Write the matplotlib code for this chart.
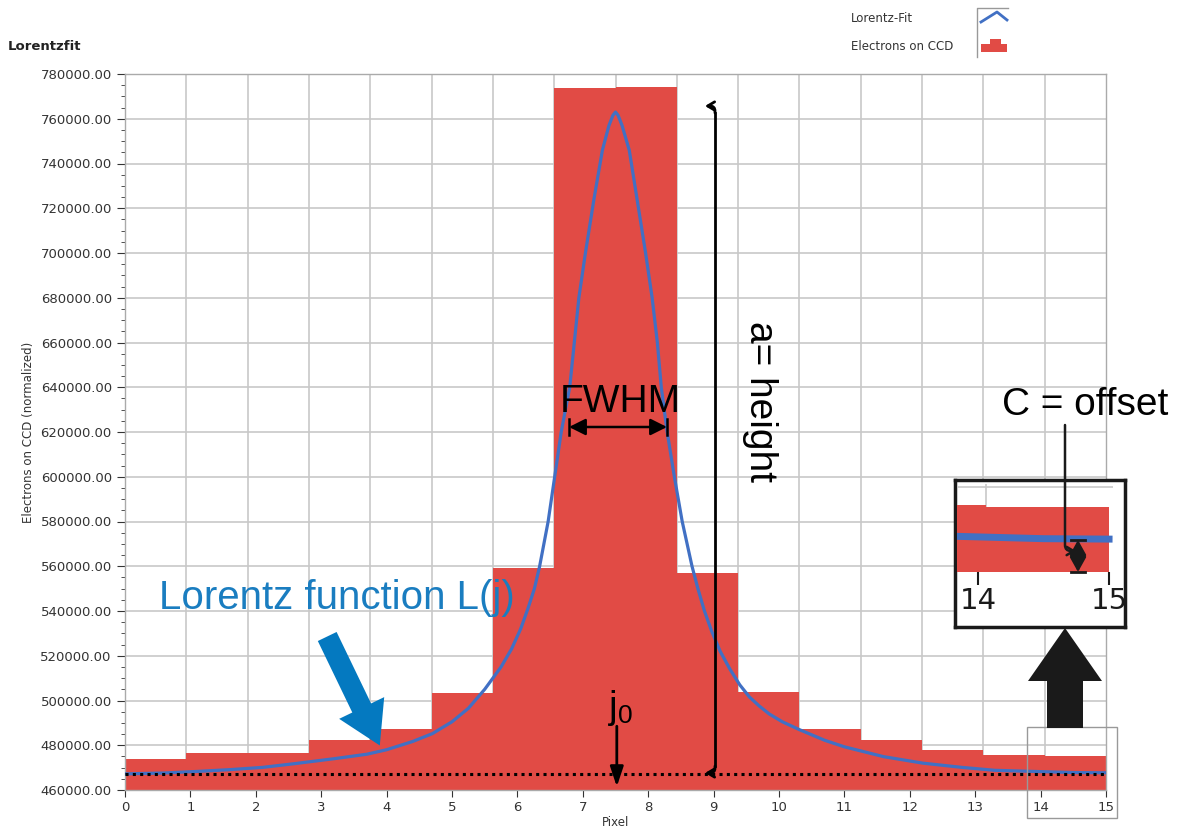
import numpy as np
import matplotlib.pyplot as plt
from matplotlib.patches import FancyArrowPatch, Rectangle, Polygon
from matplotlib.lines import Line2D
from matplotlib.ticker import MultipleLocator, FixedLocator

# histogram of electrons on the CCD (16 equal bins over 0..15)
bin_edges = np.linspace(0, 15, 17)
electrons = [474000, 476500, 476500, 482400, 487200, 503300, 559000, 773800,
             774400, 557000, 503700, 487200, 482200, 478100, 475800, 475200]

# Lorentz fit
fit_x = [0.0, 0.6, 1.1, 1.6, 2.1, 2.6, 3.2, 3.7, 4.0, 4.4, 4.7, 5.0, 5.25, 5.5,
         5.75, 5.91, 6.05, 6.16, 6.26, 6.34, 6.47, 6.57, 6.67, 6.80, 6.87, 6.94,
         7.04, 7.17, 7.30, 7.40, 7.46, 7.50, 7.54, 7.60, 7.71, 7.83, 7.96, 8.06,
         8.14, 8.20, 8.29, 8.40, 8.52, 8.67, 8.76, 8.86, 8.97, 9.10, 9.25, 9.40,
         9.55, 9.70, 9.85, 10.05, 10.31, 10.7, 11.0, 11.6, 12.2, 12.8, 13.3,
         13.9, 14.5, 15.0]
fit_y = [467200, 467600, 468300, 469100, 470100, 471800, 474000, 476000, 478000,
         481700, 485200, 490500, 496500, 505000, 515000, 523000, 532000, 541000,
         550000, 560000, 580000, 600000, 620000, 640000, 660000, 680000, 700000,
         724000, 746000, 757000, 761500, 763000, 761500, 757000, 746000, 724000,
         700000, 680000, 660000, 640000, 620000, 600000, 580000, 560000, 550000,
         540000, 531000, 522000, 514000, 507000, 501500, 497500, 494000, 490500,
         487000, 482200, 479300, 474900, 472000, 470100, 468800, 468300, 467800,
         467700]

offset_c = 467000
peak_x = 7.52

W, H = 1187, 833
red = '#e14b45'
blue = '#4170c4'
ann_blue = '#1a7dc0'
grid_c = '#c8c8c8'


def fp(x, y):
    # pixel position -> figure fraction
    return x / W, 1 - y / H


def ax_rect(l, t, r, b):
    return [l / W, 1 - b / H, (r - l) / W, (b - t) / H]


fig = plt.figure(figsize=(W / 100, H / 100), dpi=100)
ax = fig.add_axes(ax_rect(125, 74, 1106, 790))

ax.bar(bin_edges[:-1], electrons, width=15 / 16, align='edge', color=red,
       linewidth=0, zorder=2)
ax.plot(fit_x, fit_y, color=blue, lw=2.3, zorder=3)
ax.axhline(offset_c, color='black', ls=(0, (1, 1.4)), lw=2.2, zorder=4)

ax.set_xlim(0, 15)
ax.set_ylim(460000, 780000)
ax.xaxis.set_major_locator(MultipleLocator(1))
ax.xaxis.set_minor_locator(FixedLocator(bin_edges))
ax.yaxis.set_major_locator(MultipleLocator(20000))
ax.yaxis.set_minor_locator(MultipleLocator(5000))
ax.yaxis.set_major_formatter(lambda v, p: f'{v:.2f}')
ax.grid(True, which='minor', axis='x', color=grid_c, lw=1.2)
ax.grid(True, which='major', axis='y', color=grid_c, lw=1.2)
ax.set_axisbelow(True)
ax.tick_params(axis='x', which='minor', length=0)
ax.tick_params(axis='x', which='major', length=5, color='#333333', labelsize=9.5,
               labelcolor='#333333', pad=3)
ax.tick_params(axis='y', which='major', length=6, color='#333333', labelsize=9.5,
               labelcolor='#333333')
ax.tick_params(axis='y', which='minor', length=3, color='#333333')
for s in ax.spines.values():
    s.set_color('#aaaaaa')
    s.set_linewidth(1)
ax.set_xlabel('Pixel', fontsize=8.5, color='#333333', labelpad=1)
ax.set_ylabel('Electrons on CCD (normalized)', fontsize=8.5, color='#333333',
              labelpad=4)

fig.text(*fp(8, 47), 'Lorentzfit', fontsize=9.5, fontweight='bold',
         color='#222222', va='center', ha='left')

# legend
fig.text(*fp(851, 18), 'Lorentz-Fit', fontsize=8.5, color='#333333', va='center')
fig.text(*fp(851, 47), 'Electrons on CCD', fontsize=8.5, color='#333333',
         va='center')
fig.add_artist(Line2D(*zip(fp(1008, 8), fp(977, 8), fp(977, 57)), color='#999999',
                      lw=1))
fig.add_artist(Line2D(*zip(fp(981, 22), fp(997, 12), fp(1007, 20)), color=blue,
                      lw=2))
fig.add_artist(Polygon([fp(981, 52), fp(981, 44), fp(990, 44), fp(990, 39),
                        fp(1001, 39), fp(1001, 44), fp(1007, 44), fp(1007, 52)],
                       closed=True, color=red, lw=0))

tf = dict(family='Liberation Sans')

# Lorentz function label and arrow
fig.text(*fp(337, 598), 'Lorentz function L(j)', fontsize=29, color=ann_blue,
         ha='center', va='center', **tf)
fig.add_artist(FancyArrowPatch(fp(326, 634), fp(381, 748),
                               transform=fig.transFigure, mutation_scale=10,
                               arrowstyle='simple,tail_width=1.5,head_width=3.6,head_length=3.0',
                               color='#0479c0', lw=0))

# FWHM
fig.text(*fp(620, 402), 'FWHM', fontsize=28, ha='center', va='center', **tf)
fig.add_artist(FancyArrowPatch(fp(569, 427), fp(667, 427), transform=fig.transFigure,
                               arrowstyle='<|-|>,head_length=0.5,head_width=0.25',
                               mutation_scale=20, color='black', lw=1.8,
                               shrinkA=0, shrinkB=0))
for xx in (569, 667):
    fig.add_artist(Line2D(*zip(fp(xx, 419), fp(xx, 435)), color='black', lw=1.8))

# a = height
fig.text(*fp(760, 402), 'a= height', fontsize=28, rotation=-90, ha='center',
         va='center', **tf)
fig.add_artist(Line2D(*zip(fp(715, 113), fp(715, 766)), color='black', lw=2))
for y0, y1 in ((113, 106), (766, 773)):
    fig.add_artist(FancyArrowPatch(fp(715, y0), fp(705, y1), transform=fig.transFigure,
                                   connectionstyle='angle,angleA=90,angleB=0,rad=5',
                                   arrowstyle='->,head_length=0.25,head_width=0.15',
                                   mutation_scale=20, color='black', lw=2,
                                   shrinkA=0, shrinkB=0))

# j0
fig.text(*fp(618, 708), 'j', fontsize=28, ha='right', va='center', **tf)
fig.text(*fp(618, 716), '0', fontsize=19, ha='left', va='center', **tf)
ax.annotate('', xy=(peak_x, 461500), xytext=(peak_x, 488500),
            arrowprops=dict(arrowstyle='-|>,head_length=1.2,head_width=0.4',
                            color='black', lw=2, shrinkA=0, shrinkB=0),
            annotation_clip=False)

# marked region and big black arrow
fig.add_artist(Rectangle(fp(1027, 818), 90 / W, 91 / H, transform=fig.transFigure,
                         fill=False, edgecolor='#999999', lw=1))
fig.add_artist(Polygon([fp(1047, 728), fp(1083, 728), fp(1083, 681), fp(1102, 681),
                        fp(1065, 628), fp(1028, 681), fp(1047, 681)], closed=True,
                       color='#1a1a1a', lw=0))

# inset box with zoomed view of pixel 14..15
box = fig.add_axes(ax_rect(955, 480, 1125, 627))
box.set_xticks([])
box.set_yticks([])
for s in box.spines.values():
    s.set_linewidth(2.5)
    s.set_color('#1a1a1a')

ins = fig.add_axes(ax_rect(957, 484, 1113, 572))
ins.patch.set_alpha(0)
ins.bar(bin_edges[:-1], electrons, width=15 / 16, align='edge', color=red,
        linewidth=0, zorder=2)
ins.plot(fit_x, fit_y, color=blue, lw=5, zorder=3)
ins.set_xlim(13.84, 15.03)
ins.set_ylim(460000, 480600)
ins.set_xticks([14, 15])
ins.set_yticks([])
ins.xaxis.set_minor_locator(FixedLocator(bin_edges))
ins.grid(True, which='minor', axis='x', color=grid_c, lw=1.2)
ins.axhline(480000, color=grid_c, lw=1.2, zorder=0)
ins.tick_params(axis='x', which='minor', length=0)
ins.tick_params(axis='x', which='major', length=9, width=1.5, labelsize=21,
                color='#1a1a1a', labelcolor='#1a1a1a', pad=2)
for s in ins.spines.values():
    s.set_visible(False)

fig.text(*fp(1085, 405), 'C = offset', fontsize=28, ha='center', va='center', **tf)
fig.add_artist(FancyArrowPatch(fp(1065, 425), fp(1076, 551), transform=fig.transFigure,
                               connectionstyle='angle,angleA=90,angleB=0,rad=6',
                               arrowstyle='->,head_length=0.25,head_width=0.15',
                               mutation_scale=20, color='#1a1a1a', lw=1.8,
                               shrinkA=0, shrinkB=0))
fig.add_artist(FancyArrowPatch(fp(1078, 540), fp(1078, 572), transform=fig.transFigure,
                               arrowstyle='<|-|>,head_length=0.45,head_width=0.25',
                               mutation_scale=20, color='#1a1a1a', lw=1.8,
                               shrinkA=0, shrinkB=0))
for yy in (540, 572):
    fig.add_artist(Line2D(*zip(fp(1071, yy), fp(1085, yy)), color='#1a1a1a', lw=2))

plt.savefig('out.png', dpi=100)
